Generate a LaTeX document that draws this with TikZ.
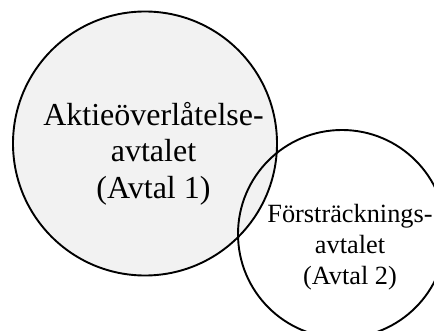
\documentclass[tikz,border=0pt]{standalone}
\usepackage{fontspec}
\setmainfont{Liberation Serif}
\usepackage{xcolor}
\definecolor{setgray}{HTML}{F2F2F2}

\begin{document}
\begin{tikzpicture}[x=1pt, y=-1pt, every node/.style={inner sep=0pt, align=center},
    setcircle/.style={circle, draw, line width=1.9pt}]
    \useasboundingbox (0,0) rectangle (434,331);
    \node[setcircle, fill=setgray, minimum size=264pt] (avtal1) at (145,143.5) {};
    \node[setcircle, minimum size=208pt] (avtal2) at (342,234) {};
    \node[font=\fontsize{32}{36.5}\selectfont] (avtal1text) at (153.5,153.5) {Aktieöverlåtelse-\\avtalet\\(Avtal 1)};
    \node[font=\fontsize{26.3}{31}\selectfont] (avtal2text) at (350,247) {Försträcknings-\\avtalet\\(Avtal 2)};
\end{tikzpicture}
\end{document}
